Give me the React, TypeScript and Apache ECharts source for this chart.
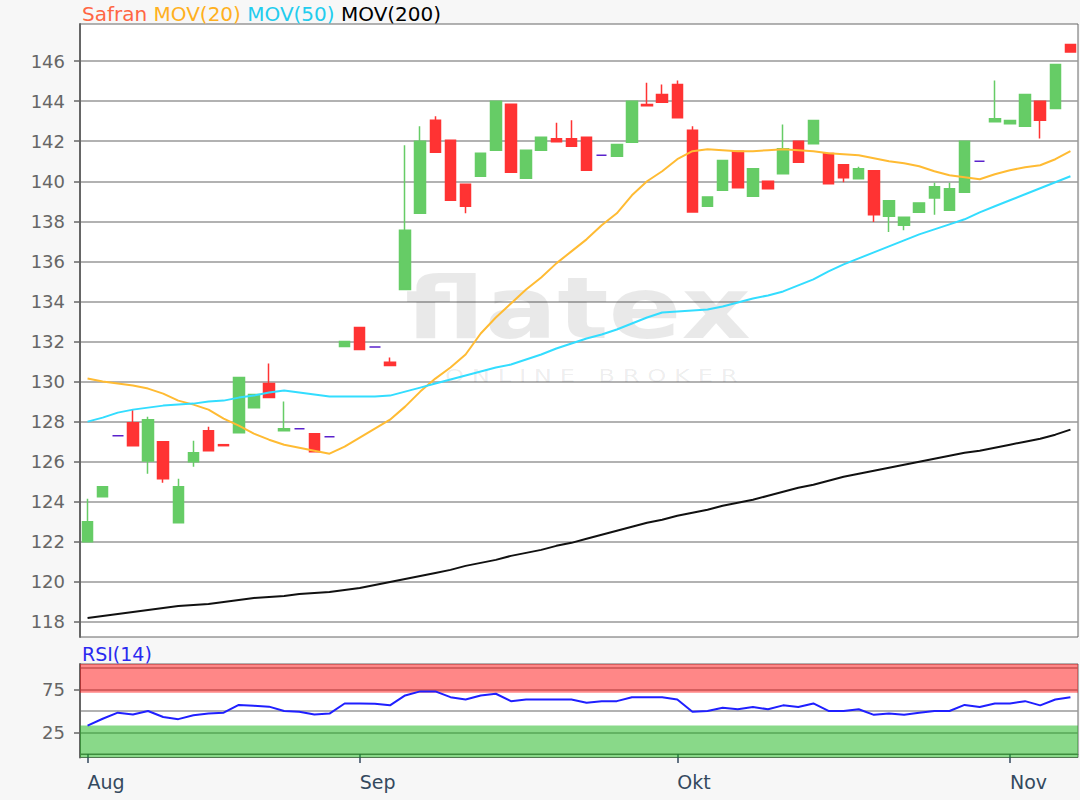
import React, { useEffect, useRef } from "react";
import * as echarts from "echarts";

// ---------- data ----------
const dates = [
  "2023-08-08", "2023-08-09", "2023-08-10", "2023-08-11", "2023-08-14", "2023-08-15", "2023-08-16", "2023-08-17", "2023-08-18",
  "2023-08-21", "2023-08-22", "2023-08-23", "2023-08-24", "2023-08-25", "2023-08-28", "2023-08-29", "2023-08-30", "2023-08-31",
  "2023-09-01", "2023-09-04", "2023-09-05", "2023-09-06", "2023-09-07", "2023-09-08", "2023-09-11", "2023-09-12", "2023-09-13",
  "2023-09-14", "2023-09-15", "2023-09-18", "2023-09-19", "2023-09-20", "2023-09-21", "2023-09-22", "2023-09-25", "2023-09-26",
  "2023-09-27", "2023-09-28", "2023-09-29",
  "2023-10-02", "2023-10-03", "2023-10-04", "2023-10-05", "2023-10-06", "2023-10-09", "2023-10-10", "2023-10-11", "2023-10-12",
  "2023-10-13", "2023-10-16", "2023-10-17", "2023-10-18", "2023-10-19", "2023-10-20", "2023-10-23", "2023-10-24", "2023-10-25",
  "2023-10-26", "2023-10-27", "2023-10-30", "2023-10-31",
  "2023-11-01", "2023-11-02", "2023-11-03", "2023-11-06", "2023-11-07",
];

const monthNames = ["Jan", "Feb", "Mär", "Apr", "Mai", "Jun", "Jul", "Aug", "Sep", "Okt", "Nov", "Dez"];

const opens = [
  122.0, 124.25, 127.3, 127.95, 126.03, 127.0, 122.95, 126.0, 127.55, 126.85, 127.45, 128.7, 129.9, 127.55, 127.65, 127.4, 127.25,
  131.75, 132.7, 131.73, 130.97, 134.6, 138.4, 143.05, 142.05, 139.85, 140.25, 141.55, 143.85, 140.15, 141.55, 142.12, 142.12,
  142.2, 141.3, 141.25, 141.95, 143.83, 144.33, 144.83, 142.55, 138.75, 139.55, 141.5, 139.25, 140.0, 140.37, 142.0, 141.87,
  141.38, 140.83, 140.13, 140.53, 138.25, 137.8, 138.45, 139.17, 138.55, 139.45, 141.0, 142.97, 142.87, 142.75, 144.0, 143.63,
  146.83,
];
const closes = [
  123.0, 124.75, 127.3, 126.8, 128.1, 125.15, 124.75, 126.45, 126.55, 126.8, 130.2, 129.35, 129.2, 127.65, 127.65, 126.5, 127.25,
  132.0, 131.6, 131.73, 130.8, 137.55, 142.0, 141.45, 139.05, 138.75, 141.4, 144.0, 140.45, 141.55, 142.2, 141.97, 141.75,
  140.55, 141.3, 141.83, 144.0, 143.77, 143.95, 143.17, 138.47, 139.22, 141.03, 139.67, 140.62, 139.63, 141.62, 140.95, 143.03,
  139.87, 140.17, 140.62, 138.33, 139.03, 138.2, 138.92, 139.72, 139.62, 142.0, 141.0, 143.12, 143.03, 144.33, 143.05, 145.83,
  146.45,
];
const lows = [
  122.0, 124.25, 127.3, 126.8, 125.4, 124.95, 122.95, 125.75, 126.55, 126.8, 127.45, 128.7, 129.2, 127.55, 127.65, 126.5, 127.25,
  131.75, 131.6, 131.73, 130.8, 134.6, 138.4, 141.45, 139.05, 138.4, 140.25, 141.55, 140.45, 140.15, 141.55, 141.97, 141.75,
  140.55, 141.3, 141.25, 141.95, 143.77, 143.95, 143.17, 138.47, 138.75, 139.55, 139.67, 139.25, 139.63, 140.37, 140.95, 141.87,
  139.87, 139.95, 140.13, 137.97, 137.47, 137.55, 138.45, 138.33, 138.55, 139.45, 141.0, 142.97, 142.87, 142.75, 142.13, 143.63,
  146.45,
];
const highs = [
  124.15, 124.75, 127.3, 128.6, 128.25, 127.0, 125.15, 127.05, 127.75, 126.85, 130.2, 129.35, 130.9, 129.0, 127.65, 127.4, 127.25,
  132.0, 132.7, 131.73, 131.2, 141.8, 142.75, 143.25, 142.05, 139.85, 141.4, 144.0, 143.85, 141.55, 142.2, 142.92, 143.05,
  142.2, 141.3, 141.83, 144.0, 144.92, 144.83, 145.03, 142.75, 139.22, 141.03, 141.5, 140.62, 140.0, 142.83, 142.0, 143.03,
  141.38, 140.83, 140.73, 140.53, 139.03, 138.2, 138.92, 139.92, 139.92, 142.0, 141.0, 145.03, 143.03, 144.33, 144.0, 145.83,
  146.83,
];

const ma20 = [
  130.15, 130.0, 129.9, 129.8, 129.65, 129.4, 129.05, 128.85, 128.6, 128.15, 127.8, 127.4, 127.1, 126.85, 126.7, 126.55, 126.4,
  126.75, 127.2, 127.65, 128.1, 128.75, 129.5, 130.15, 130.7, 131.35, 132.4, 133.2, 133.9, 134.6, 135.2, 135.9, 136.5, 137.1,
  137.8, 138.4, 139.3, 140.0, 140.5, 141.1, 141.5, 141.6, 141.55, 141.5, 141.5, 141.55, 141.6, 141.55, 141.5, 141.4, 141.35,
  141.3, 141.15, 141.0, 140.9, 140.75, 140.5, 140.3, 140.2, 140.1, 140.35, 140.55, 140.7, 140.8, 141.1, 141.5,
];
const ma50 = [
  128.0, 128.2, 128.45, 128.6, 128.7, 128.8, 128.85, 128.9, 129.0, 129.05, 129.2, 129.3, 129.45, 129.55, 129.45, 129.35, 129.25,
  129.25, 129.25, 129.25, 129.3, 129.5, 129.7, 129.9, 130.1, 130.3, 130.5, 130.7, 130.85, 131.1, 131.35, 131.65, 131.9, 132.15,
  132.35, 132.6, 132.9, 133.2, 133.45, 133.5, 133.55, 133.6, 133.75, 133.95, 134.15, 134.3, 134.5, 134.8, 135.1, 135.5, 135.85,
  136.15, 136.45, 136.75, 137.05, 137.35, 137.6, 137.85, 138.1, 138.45, 138.75, 139.05, 139.35, 139.65, 139.95, 140.25,
];
const ma200 = [
  118.2, 118.3, 118.4, 118.5, 118.6, 118.7, 118.8, 118.85, 118.9, 119.0, 119.1, 119.2, 119.25, 119.3, 119.4, 119.45, 119.5,
  119.6, 119.7, 119.85, 120.0, 120.15, 120.3, 120.45, 120.6, 120.8, 120.95, 121.1, 121.3, 121.45, 121.6, 121.8, 121.95, 122.15,
  122.35, 122.55, 122.75, 122.95, 123.1, 123.3, 123.45, 123.6, 123.8, 123.95, 124.1, 124.3, 124.5, 124.7, 124.85, 125.05, 125.25,
  125.4, 125.55, 125.7, 125.85, 126.0, 126.15, 126.3, 126.45, 126.55, 126.7, 126.85, 127.0, 127.15, 127.35, 127.6,
];
const rsi = [
  33, 41, 48, 46, 50, 43, 40.5, 45, 47, 48, 57, 56, 55, 50, 49, 46, 47, 58.7, 58.7, 58.5, 56.5, 68, 72.7, 72.7, 66, 63.3, 68, 70,
  61.4, 63.3, 63.3, 63.3, 63.3, 59.5, 61.4, 61.4, 66, 66, 66, 63.3, 49, 50, 53.7, 52, 54.5, 52, 56.5, 54.5, 58.7, 50, 50, 52, 45.5,
  47, 45.5, 48, 50, 50, 57, 54.5, 58.7, 58.7, 61.4, 56.5, 63.3, 66,
];

const priceTicks = [118, 120, 122, 124, 126, 128, 130, 132, 134, 136, 138, 140, 142, 144, 146];
const rsiTicks = [25, 75];
const rsiLines = [0, 25, 50, 75, 100];
const overboughtBand = [71, 104.5];
const oversoldBand = [-4, 33];

// ---------- styles ----------
const FONT = '"DejaVu Sans", Verdana, sans-serif';
const UP = "#66cc66";
const DOWN = "#ff3333";
const DOJI = "#5a22cc";

const isMonthStart = (index: number) =>
  index === 0 || dates[index].slice(5, 7) !== dates[index - 1].slice(5, 7);

function buildOption() {
  const candleData = dates.map((_, i) => {
    const v = [opens[i], closes[i], lows[i], highs[i]];
    if (opens[i] === closes[i]) {
      return {
        value: v,
        itemStyle: { color: DOJI, color0: DOJI, borderColor: DOJI, borderColor0: DOJI },
      };
    }
    return v;
  });

  return {
    animation: false,
    backgroundColor: "#f7f7f7",
    grid: [
      {
        left: 80, top: 24, width: 998, height: 613, show: true, backgroundColor: "#ffffff",
        borderColor: "#666", borderWidth: 1, outerBoundsMode: "none",
      },
      {
        left: 80, top: 664, width: 998, height: 93.5, show: true, backgroundColor: "#ffffff",
        borderColor: "#666", borderWidth: 1, outerBoundsMode: "none",
      },
    ],
    xAxis: [
      {
        type: "category", gridIndex: 0, data: dates, boundaryGap: true,
        axisLine: { show: false }, axisTick: { show: false }, axisLabel: { show: false }, splitLine: { show: false },
      },
      {
        type: "category", gridIndex: 1, data: dates, boundaryGap: true,
        axisLine: { show: true, lineStyle: { color: "#666", width: 1 } },
        axisTick: {
          show: true, alignWithLabel: true, interval: (i: number) => isMonthStart(i), length: 9,
          lineStyle: { color: "#34495e", width: 1.5 },
        },
        axisLabel: {
          interval: (i: number) => isMonthStart(i),
          formatter: (v: string) => monthNames[parseInt(v.slice(5, 7), 10) - 1],
          align: "left", margin: 15, color: "#34495e", fontSize: 19, fontFamily: FONT,
        },
        splitLine: { show: false },
      },
    ],
    yAxis: [
      {
        type: "value", gridIndex: 0, min: 117.25, max: 147.85, splitNumber: 15, minInterval: 2, maxInterval: 2,
        axisLine: { show: true, lineStyle: { color: "#666", width: 2 } },
        axisTick: { show: true, length: 6, customValues: priceTicks, lineStyle: { color: "#666", width: 1.5 } },
        axisLabel: { color: "#666", fontSize: 18, fontFamily: FONT, margin: 15, customValues: priceTicks },
        splitLine: { show: true, lineStyle: { color: "#999", width: 1.5 } },
      },
      {
        type: "value", gridIndex: 1, min: -4, max: 104.5, splitNumber: 4, minInterval: 25, maxInterval: 25,
        axisLine: { show: true, lineStyle: { color: "#666", width: 2 } },
        axisTick: { show: true, length: 6, customValues: rsiTicks, lineStyle: { color: "#666", width: 1.5 } },
        axisLabel: {
          color: "#666", fontSize: 18, fontFamily: FONT, margin: 15, customValues: rsiTicks,
          formatter: (v: number) => (rsiTicks.indexOf(v) >= 0 ? String(v) : ""),
        },
        splitLine: { show: false },
      },
      {
        type: "value", gridIndex: 1, min: -4, max: 104.5, splitNumber: 4, minInterval: 25, maxInterval: 25,
        axisLine: { show: false },
        axisTick: { show: false, customValues: rsiLines },
        axisLabel: { show: false, customValues: rsiLines },
        splitLine: { show: true, lineStyle: { color: "#999", width: 1.5 } },
      },
    ],
    series: [
      {
        name: "Safran", type: "candlestick", xAxisIndex: 0, yAxisIndex: 0, data: candleData, barWidth: 11,
        itemStyle: { color: UP, color0: DOWN, borderColor: UP, borderColor0: DOWN, borderWidth: 1.5 },
      },
      {
        name: "MOV(20)", type: "line", xAxisIndex: 0, yAxisIndex: 0, data: ma20, symbol: "none",
        lineStyle: { color: "#ffbb33", width: 2 },
      },
      {
        name: "MOV(50)", type: "line", xAxisIndex: 0, yAxisIndex: 0, data: ma50, symbol: "none",
        lineStyle: { color: "#33ddff", width: 2 },
      },
      {
        name: "MOV(200)", type: "line", xAxisIndex: 0, yAxisIndex: 0, data: ma200, symbol: "none",
        lineStyle: { color: "#111111", width: 2 },
      },
      {
        name: "RSI(14)", type: "line", xAxisIndex: 1, yAxisIndex: 1, data: rsi, symbol: "none",
        lineStyle: { color: "#1f1fff", width: 2 },
        markArea: {
          silent: true,
          data: [
            [{ yAxis: overboughtBand[0], itemStyle: { color: "rgba(255,0,0,0.47)" } }, { yAxis: overboughtBand[1] }],
            [{ yAxis: oversoldBand[0], itemStyle: { color: "rgba(20,180,20,0.5)" } }, { yAxis: oversoldBand[1] }],
          ],
        },
      },
    ],
    graphic: [
      {
        type: "text", x: 82, y: 14, z: 10, silent: true,
        style: {
          text: "{a|Safran} {b|MOV(20)} {c|MOV(50)} {d|MOV(200)}",
          fontSize: 20, fontFamily: FONT, verticalAlign: "middle", fill: "#000",
          rich: {
            a: { fill: "#ff6644", fontSize: 20, fontFamily: FONT },
            b: { fill: "#ffb020", fontSize: 20, fontFamily: FONT },
            c: { fill: "#22ccee", fontSize: 20, fontFamily: FONT },
            d: { fill: "#000000", fontSize: 20, fontFamily: FONT },
          },
        },
      },
      {
        type: "text", x: 82, y: 654, z: 10, silent: true,
        style: { text: "RSI(14)", fontSize: 19, fontFamily: FONT, fill: "#2a2af0", verticalAlign: "middle" },
      },
      {
        type: "text", x: 405, y: 308, z: 1, silent: true, scaleX: 1.25,
        style: {
          text: "flatex", fontSize: 86, fontWeight: "bold", fontFamily: FONT,
          fill: "rgba(0,0,0,0.085)", verticalAlign: "middle",
        },
      },
      {
        type: "text", x: 445, y: 376, z: 1, silent: true, scaleX: 1.35,
        style: {
          text: "O N L I N E   B R O K E R", fontSize: 18, fontFamily: FONT,
          fill: "rgba(0,0,0,0.08)", verticalAlign: "middle",
        },
      },
    ],
  };
}

export default function App() {
  const ref = useRef<HTMLDivElement>(null);
  useEffect(() => {
    if (!ref.current) return;
    const chart = echarts.init(ref.current, null, { renderer: "svg" });
    chart.setOption(buildOption() as any);
    return () => chart.dispose();
  }, []);
  return (
    <div style={{ position: "fixed", left: 0, top: 0, width: 1080, height: 800, background: "#f7f7f7" }}>
      <div ref={ref} style={{ width: 1080, height: 800 }} />
    </div>
  );
}
